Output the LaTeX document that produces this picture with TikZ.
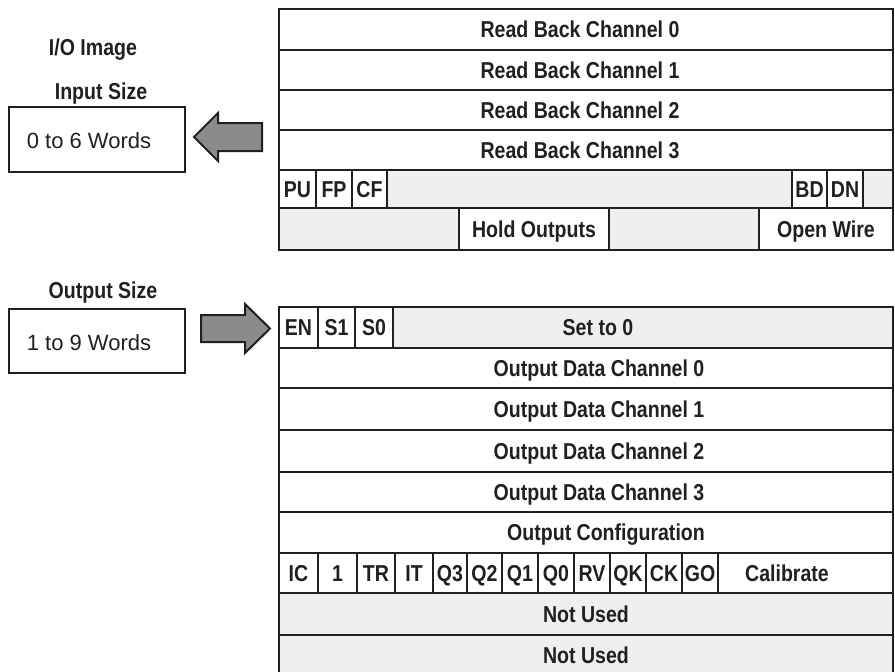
\documentclass[tikz,border=0pt]{standalone}
\usepackage{fontspec}
\setmainfont{Liberation Sans}
\newfontfamily\condfont[FakeStretch=0.85]{Liberation Sans}
\definecolor{ink}{HTML}{231F20}
\definecolor{pale}{HTML}{EEF0EF}
\definecolor{arrowgray}{HTML}{898B8D}

% a register cell spanning (x1,y1)-(x2,y2), in pixel-like units
\newcommand\wordcell[7][]{%
  \node[cellbox,#1,minimum width={(#5-#3)*1pt},minimum height={(#6-#4)*1pt}]
    (#2) at ({(#3+#5)/2},{(#4+#6)/2}) {#7};}
% a label placed at (x, vertical centre of its row)
\newcommand\celltext[4]{\node[lbl] (#1) at (#2,#3) {#4};}

\begin{document}
\begin{tikzpicture}[x=1pt,y=-1pt,
  cellbox/.style={draw=ink,line width=2.4pt,fill=white,inner sep=0pt,
    font=\condfont\bfseries\fontsize{23}{23}\selectfont,text=ink,
    text height=16.5pt,text depth=0pt},
  pale cell/.style={fill=pale},
  thick rows/.style={line width=2.8pt},
  lbl/.style={inner sep=0pt,font=\condfont\bfseries\fontsize{23}{23}\selectfont,
    text=ink,text height=16.5pt,text depth=0pt},
  sizebox/.style={draw=ink,line width=2pt,inner sep=0pt,fill=white},
  plain/.style={inner sep=0pt,font=\fontsize{22}{22}\selectfont,text=ink,
    text height=16pt,text depth=0pt},
  blockarrow/.style={draw=ink,line width=2pt,fill=arrowgray,line join=miter}]

\useasboundingbox (0,0) rectangle (895,672);

% ---------- input image ----------
\wordcell{rb0}{279}{9}{893}{50}{}
\wordcell{rb1}{279}{50}{893}{90}{}
\wordcell{rb2}{279}{90}{893}{130}{}
\wordcell{rb3}{279}{130}{893}{170}{}
\celltext{rb0t}{580}{29.5}{Read Back Channel 0}
\celltext{rb1t}{580}{70}{Read Back Channel 1}
\celltext{rb2t}{580}{110}{Read Back Channel 2}
\celltext{rb3t}{580}{150}{Read Back Channel 3}

\wordcell{pu}{279}{170}{316}{208}{PU}
\wordcell{fp}{316}{170}{352}{208}{FP}
\wordcell{cf}{352}{170}{387}{208}{CF}
\wordcell[pale cell]{gapa}{387}{170}{792}{208}{}
\wordcell{bd}{792}{170}{827}{208}{BD}
\wordcell{dn}{827}{170}{863}{208}{DN}
\wordcell[pale cell]{gapb}{863}{170}{893}{208}{}

\wordcell[pale cell]{gapc}{279}{208}{459}{250}{}
\wordcell{hold}{459}{208}{609}{250}{Hold Outputs}
\wordcell[pale cell]{gapd}{609}{208}{759}{250}{}
\wordcell{ow}{759}{208}{893}{250}{Open Wire}

% ---------- output image ----------
\wordcell[thick rows]{en}{279}{307}{318}{348}{EN}
\wordcell[thick rows]{sone}{318}{307}{355}{348}{S1}
\wordcell[thick rows]{szero}{355}{307}{393}{348}{S0}
\wordcell[thick rows,pale cell]{setz}{393}{307}{893}{348}{}
\celltext{setzt}{598}{327.5}{Set to 0}

\wordcell[thick rows]{od0}{279}{348}{893}{388}{}
\wordcell[thick rows]{od1}{279}{388}{893}{430}{}
\wordcell[thick rows]{od2}{279}{430}{893}{472}{}
\wordcell[thick rows]{od3}{279}{472}{893}{512}{}
\wordcell[thick rows]{ocfg}{279}{512}{893}{553}{}
\celltext{od0t}{599}{368}{Output Data Channel 0}
\celltext{od1t}{599}{409}{Output Data Channel 1}
\celltext{od2t}{599}{451}{Output Data Channel 2}
\celltext{od3t}{599}{492}{Output Data Channel 3}
\celltext{ocfgt}{606}{532.5}{Output Configuration}

\wordcell[thick rows]{ic}{279}{553}{318}{593}{IC}
\wordcell[thick rows]{one}{318}{553}{357}{593}{1}
\wordcell[thick rows]{tr}{357}{553}{395}{593}{TR}
\wordcell[thick rows]{it}{395}{553}{433}{593}{IT}
\wordcell[thick rows]{qthree}{433}{553}{467}{593}{Q3}
\wordcell[thick rows]{qtwo}{467}{553}{502}{593}{Q2}
\wordcell[thick rows]{qone}{502}{553}{538}{593}{Q1}
\wordcell[thick rows]{qzero}{538}{553}{574}{593}{Q0}
\wordcell[thick rows]{rv}{574}{553}{610}{593}{RV}
\wordcell[thick rows]{qk}{610}{553}{646}{593}{QK}
\wordcell[thick rows]{ck}{646}{553}{682}{593}{CK}
\wordcell[thick rows]{go}{682}{553}{718}{593}{GO}
\wordcell[thick rows]{cal}{718}{553}{893}{593}{}
\celltext{calt}{787}{573}{Calibrate}

\wordcell[thick rows,pale cell]{nua}{279}{593}{893}{635}{Not Used}
\wordcell[thick rows,pale cell]{nub}{279}{635}{893}{676}{Not Used}

% ---------- sizes and transfer arrows ----------
\celltext{iohead}{93}{47}{I/O Image}
\celltext{inhead}{101}{91}{Input Size}
\node[sizebox,minimum width=176pt,minimum height=65pt] (inbox) at (97,139.5) {};
\node[plain] (inwords) at (89,140) {0 to 6 Words};
\draw[blockarrow] (194,137) -- (218,113) -- (218,123) -- (262,123)
  -- (262,151) -- (218,151) -- (218,161) -- cycle;

\celltext{outhead}{103}{290}{Output Size}
\node[sizebox,minimum width=176pt,minimum height=64pt] (outbox) at (97,341) {};
\node[plain] (outwords) at (89,342) {1 to 9 Words};
\draw[blockarrow] (201,315) -- (245,315) -- (245,304) -- (270,328.5)
  -- (245,353) -- (245,342) -- (201,342) -- cycle;
\end{tikzpicture}
\end{document}
